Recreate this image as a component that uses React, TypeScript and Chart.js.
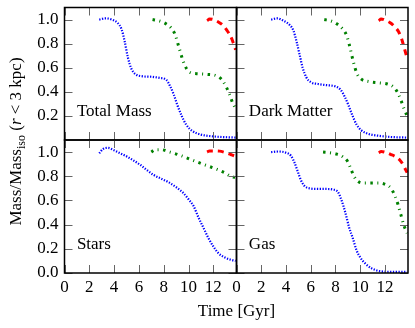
import React, { useEffect, useRef } from 'react';
import { Chart, registerables } from 'chart.js';

Chart.register(...registerables);

// ---- Data: [time (Gyr), Mass / Mass_iso] ----
const totalBlue = [[2.8,1.0],[3.3,1.01],[3.8,1.0],[4.3,0.97],[4.6,0.92],[4.85,0.82],[5.1,0.69],[5.4,0.59],[5.75,0.545],[6.2,0.53],[7.0,0.525],[7.7,0.515],[8.2,0.5],[8.5,0.45],[8.8,0.38],[9.1,0.29],[9.45,0.2],[9.8,0.13],[10.3,0.075],[11.0,0.045],[12.0,0.03],[13.8,0.02]];
const totalGreen = [[7.1,1.0],[7.6,0.99],[8.1,0.97],[8.6,0.93],[8.9,0.88],[9.2,0.78],[9.55,0.66],[9.85,0.59],[10.15,0.56],[10.8,0.55],[11.5,0.545],[12.2,0.535],[12.6,0.51],[13.0,0.45],[13.3,0.38],[13.55,0.31],[13.8,0.26]];
const totalRed = [[11.5,0.99],[11.7,1.005],[12.0,1.0],[12.4,0.98],[12.8,0.95],[13.1,0.91],[13.4,0.86],[13.6,0.81],[13.8,0.75]];

const dmBlue = [[2.8,1.0],[3.3,1.01],[3.8,0.99],[4.3,0.955],[4.6,0.91],[4.85,0.82],[5.1,0.71],[5.35,0.6],[5.65,0.52],[6.0,0.48],[6.6,0.465],[7.3,0.455],[8.0,0.445],[8.4,0.42],[8.75,0.36],[9.05,0.29],[9.35,0.21],[9.7,0.13],[10.1,0.08],[10.7,0.05],[11.5,0.035],[12.5,0.025],[13.8,0.02]];
const dmGreen = [[7.1,1.0],[7.6,0.99],[8.1,0.965],[8.6,0.92],[8.9,0.87],[9.15,0.78],[9.45,0.65],[9.75,0.55],[10.1,0.505],[10.7,0.485],[11.5,0.475],[12.2,0.465],[12.7,0.44],[13.0,0.4],[13.3,0.33],[13.55,0.26],[13.8,0.2]];
const dmRed = [[11.5,0.99],[11.7,1.005],[12.0,0.995],[12.4,0.975],[12.8,0.94],[13.1,0.9],[13.35,0.84],[13.55,0.77],[13.8,0.68]];

const starsBlue = [[2.8,0.99],[3.1,1.025],[3.5,1.035],[4.0,1.015],[4.5,0.99],[5.0,0.965],[5.5,0.935],[6.1,0.895],[6.6,0.855],[7.2,0.81],[7.8,0.78],[8.4,0.75],[9.0,0.71],[9.6,0.66],[10.0,0.61],[10.4,0.555],[10.8,0.46],[11.2,0.375],[11.6,0.29],[12.0,0.22],[12.4,0.165],[12.9,0.13],[13.4,0.11],[13.8,0.1]];
const starsGreen = [[7.0,1.0],[7.3,1.02],[7.8,1.02],[8.5,1.0],[9.2,0.978],[10.2,0.938],[11.3,0.895],[12.4,0.853],[13.0,0.825],[13.4,0.8],[13.75,0.79]];
const starsRed = [[11.5,1.0],[11.7,1.01],[12.0,1.01],[12.5,1.008],[13.0,0.995],[13.4,0.98],[13.8,0.965]];

const gasBlue = [[2.8,1.0],[3.4,1.005],[4.0,0.995],[4.4,0.97],[4.7,0.91],[4.95,0.84],[5.2,0.77],[5.5,0.72],[5.9,0.7],[6.5,0.695],[7.2,0.695],[7.8,0.69],[8.2,0.67],[8.5,0.6],[8.8,0.5],[9.1,0.38],[9.4,0.29],[9.7,0.19],[10.0,0.13],[10.4,0.08],[10.9,0.04],[11.6,0.015],[12.5,0.01],[13.8,0.01]];
const gasGreen = [[7.0,1.0],[7.5,0.995],[8.1,0.983],[8.6,0.96],[9.0,0.92],[9.25,0.86],[9.5,0.8],[9.8,0.76],[10.2,0.745],[10.8,0.745],[11.5,0.745],[12.1,0.73],[12.5,0.7],[12.8,0.64],[13.05,0.57],[13.3,0.48],[13.55,0.39],[13.8,0.33]];
const gasRed = [[11.5,0.995],[11.7,1.005],[12.0,1.0],[12.5,0.98],[12.9,0.96],[13.2,0.935],[13.45,0.9],[13.65,0.86],[13.8,0.83]];

const panelNames = ['Total Mass', 'Dark Matter', 'Stars', 'Gas'];
const panelSeries = [
  [totalBlue, totalGreen, totalRed],
  [dmBlue, dmGreen, dmRed],
  [starsBlue, starsGreen, starsRed],
  [gasBlue, gasGreen, gasRed],
];
const xTickValues = [0, 2, 4, 6, 8, 10, 12];
const yTickValuesTop = [0.2, 0.4, 0.6, 0.8, 1.0];
const yTickValuesBottom = [0.0, 0.2, 0.4, 0.6, 0.8, 1.0];
const xRange = [0, 13.87];
const yRange = [0, 1.1];
const xLabel = 'Time [Gyr]';

// ---- Layout / styles ----
const W = 415, H = 328;
const X0 = 64.5, X1 = 236.5, X2 = 408;
const Y0 = 7.5, Y1 = 140, Y2 = 273;
const YW = 40, XH = 30, TL = 8;
const FONT = '"Liberation Serif", "Times New Roman", serif';
const STYLES = [
  { color: '#0000ff', width: 2.2, dash: [1.3, 1.5] },
  { color: '#008000', width: 3, dash: [2.5, 4.5, 1, 4.5] },
  { color: '#ff0000', width: 3, dash: [6, 5] },
];

function drawYLabel(ctx: CanvasRenderingContext2D) {
  const parts = [
    { t: 'Mass/Mass', f: `17px ${FONT}`, dy: 0 },
    { t: 'iso', f: `12px ${FONT}`, dy: 4 },
    { t: ' (', f: `17px ${FONT}`, dy: 0 },
    { t: 'r', f: `italic 17px ${FONT}`, dy: 0 },
    { t: ' < 3 kpc)', f: `17px ${FONT}`, dy: 0 },
  ];
  ctx.save();
  let total = 0;
  const widths = parts.map((p) => { ctx.font = p.f; const w = ctx.measureText(p.t).width; total += w; return w; });
  ctx.translate(21, 141.5);
  ctx.rotate(-Math.PI / 2);
  ctx.fillStyle = '#000';
  ctx.textAlign = 'left';
  ctx.textBaseline = 'alphabetic';
  let x = -total / 2;
  parts.forEach((p, i) => { ctx.font = p.f; ctx.fillText(p.t, x, p.dy); x += widths[i]; });
  ctx.restore();
}

function Panel({ idx }: { idx: number }) {
  const ref = useRef<HTMLCanvasElement>(null);
  useEffect(() => {
    const col = idx % 2, row = Math.floor(idx / 2);
    const left = col === 0 ? X0 : X1;
    const right = col === 0 ? X1 : X2;
    const top = row === 0 ? Y0 : Y1;
    const bottom = row === 0 ? Y1 : Y2;
    const yTicks = row === 0 ? yTickValuesTop : yTickValuesBottom;
    const showY = col === 0, showX = row === 1;

    const plugin = {
      id: 'frame' + idx,
      afterDraw(chart: any) {
        const { ctx, chartArea: a, scales } = chart;
        const xs = scales.x, ys = scales.y;
        ctx.save();
        ctx.strokeStyle = '#666';
        ctx.lineWidth = 1;
        ctx.beginPath();
        for (const v of xTickValues) {
          const px = Math.round(xs.getPixelForValue(v)) + 0.5;
          ctx.moveTo(px, a.top); ctx.lineTo(px, a.top + TL);
          ctx.moveTo(px, a.bottom); ctx.lineTo(px, a.bottom - TL);
        }
        for (const v of yTicks) {
          const py = Math.round(ys.getPixelForValue(v)) + 0.5;
          ctx.moveTo(a.left, py); ctx.lineTo(a.left + TL, py);
          ctx.moveTo(a.right, py); ctx.lineTo(a.right - TL, py);
        }
        ctx.stroke();
        ctx.strokeStyle = '#000';
        ctx.lineWidth = 1.5;
        ctx.strokeRect(a.left, a.top, a.right - a.left, a.bottom - a.top);
        ctx.fillStyle = '#000';
        ctx.font = `17px ${FONT}`;
        ctx.textAlign = 'left';
        ctx.textBaseline = 'alphabetic';
        ctx.fillText(panelNames[idx], xs.getPixelForValue(1), ys.getPixelForValue(0.2));
        if (idx === 2) {
          drawYLabel(ctx);
          ctx.font = `17px ${FONT}`;
          ctx.textAlign = 'center';
          ctx.fillText(xLabel, X1, 316);
        }
        ctx.restore();
      },
    };

    const zeroPad = (s: any) => { s.paddingLeft = 0; s.paddingRight = 0; s.paddingTop = 0; s.paddingBottom = 0; };

    const chart = new Chart(ref.current!, {
      type: 'line',
      data: {
        datasets: panelSeries[idx].map((series, i) => ({
          data: series.map(([t, v]) => ({ x: t, y: v })),
          borderColor: STYLES[i].color,
          borderWidth: STYLES[i].width,
          borderDash: STYLES[i].dash,
          borderCapStyle: 'butt',
          pointRadius: 0,
          fill: false,
          cubicInterpolationMode: 'monotone',
        })),
      },
      options: {
        animation: false,
        responsive: false,
        events: [],
        layout: {
          padding: {
            left: left - (showY ? YW : 0),
            right: W - right,
            top: top,
            bottom: H - bottom - (showX ? XH : 0),
          },
        },
        plugins: { legend: { display: false }, tooltip: { enabled: false } },
        scales: {
          x: {
            type: 'linear',
            min: xRange[0],
            max: xRange[1],
            bounds: 'data',
            display: showX,
            grid: { display: false, drawTicks: false },
            border: { display: false },
            afterBuildTicks: (s: any) => { s.ticks = xTickValues.map((v) => ({ value: v })); },
            afterFit: (s: any) => { if (showX) s.height = XH; zeroPad(s); },
            ticks: {
              font: { family: FONT, size: 17 },
              color: '#000',
              padding: 4,
              maxRotation: 0,
              autoSkip: false,
              callback: (v: any) => String(v),
            },
          },
          y: {
            type: 'linear',
            min: yRange[0],
            max: yRange[1],
            bounds: 'data',
            display: showY,
            grid: { display: false, drawTicks: false },
            border: { display: false },
            afterBuildTicks: (s: any) => { s.ticks = yTicks.map((v) => ({ value: v })); },
            afterFit: (s: any) => { if (showY) s.width = YW; zeroPad(s); },
            ticks: {
              font: { family: FONT, size: 17 },
              color: '#000',
              padding: 6,
              autoSkip: false,
              callback: (v: any) => Number(v).toFixed(1),
            },
          },
        },
      },
      plugins: [plugin],
    } as any);
    return () => chart.destroy();
  }, [idx]);
  return (
    <canvas
      ref={ref}
      width={W}
      height={H}
      style={{ position: 'absolute', left: 0, top: 0, width: W, height: H }}
    />
  );
}

export default function App() {
  useEffect(() => {
    document.body.style.margin = '0';
  }, []);
  return (
    <div style={{ position: 'relative', width: W, height: H, background: '#fff' }}>
      {[0, 1, 2, 3].map((i) => (
        <Panel key={i} idx={i} />
      ))}
    </div>
  );
}
